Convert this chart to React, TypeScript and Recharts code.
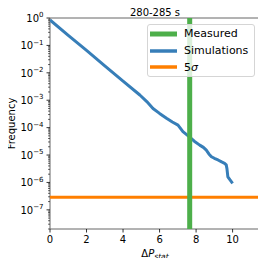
import {
  ComposedChart,
  Legend,
  Line,
  ReferenceArea,
  XAxis,
  YAxis,
} from "recharts";

// simulated false-alarm frequency vs. test statistic
const simX = [
  0, 1, 2, 3, 4, 4.92, 5.3, 5.64, 6.0, 6.38, 6.7, 7.01, 7.28, 7.65, 7.9, 8.2,
  8.4, 8.56, 8.7, 8.84, 9.0, 9.2, 9.4, 9.56, 9.65, 9.69, 9.74, 9.85, 10.0,
];
const simFreq = [
  0.85, 0.234, 0.066, 0.018, 0.005, 1.55e-3, 8.9e-4, 5.0e-4, 3.3e-4, 2.2e-4,
  1.6e-4, 1.23e-4, 7.1e-5, 4.5e-5, 3.2e-5, 2.3e-5, 1.9e-5, 1.5e-5, 1.1e-5,
  8.7e-6, 7.6e-6, 6.6e-6, 5.6e-6, 5.0e-6, 4.4e-6, 3.2e-6, 1.6e-6, 1.26e-6,
  9.3e-7,
];
const measuredValue = 7.65;
const fiveSigma = 2.87e-7;

const xDomain = [0, 11.5];
const yDomain = [2e-8, 1];
const xTicks = [0, 2, 4, 6, 8, 10];
const yMajorTicks = [1e-7, 1e-6, 1e-5, 1e-4, 1e-3, 1e-2, 1e-1, 1];
const yMinorSteps = [2, 3, 4, 5, 6, 7, 8, 9];

const BLUE = "#377eb8";
const GREEN = "#4daf4a";
const ORANGE = "#ff7f00";
const FONT = "DejaVu Sans";

const legendItems = [
  { name: "Measured", color: GREEN, width: 5 },
  { name: "Simulations", color: BLUE, width: 3.5 },
  { name: "5σ", color: ORANGE, width: 3.5 },
];

const simData = simX.map((x, i) => ({ x, y: simFreq[i] }));
const measuredData = [
  { x: measuredValue, y: yDomain[0] },
  { x: measuredValue, y: yDomain[1] },
];
const sigmaData = [
  { x: xDomain[0], y: fiveSigma },
  { x: xDomain[1], y: fiveSigma },
];

// major decades plus 2..9 minor ticks inside the domain
const yAllTicks = [
  ...yMajorTicks,
  ...[1e-8, ...yMajorTicks]
    .flatMap((d) => yMinorSteps.map((m) => m * d))
    .filter((v) => v >= yDomain[0] && v < yDomain[1]),
];

const isMajor = (v: number) =>
  yMajorTicks.some((t) => Math.abs(v / t - 1) < 1e-6);

const YTick = ({ x, y, payload }: any) => {
  const v = payload.value;
  if (!isMajor(v)) {
    return <line x1={x - 2} x2={x} y1={y} y2={y} stroke="#000" strokeWidth={0.6} />;
  }
  const exp = Math.round(Math.log10(v));
  return (
    <g>
      <line x1={x - 3.5} x2={x} y1={y} y2={y} stroke="#000" strokeWidth={0.8} />
      <text
        x={x - 6.5}
        y={y + 3.7}
        textAnchor="end"
        fontFamily={FONT}
        fontSize={10}
        fill="#000"
      >
        10
        <tspan dy={-4.5} fontSize={7}>
          {exp < 0 ? `\u2212${-exp}` : exp}
        </tspan>
      </text>
    </g>
  );
};

const XTick = ({ x, y, payload }: any) => (
  <g>
    <line x1={x} x2={x} y1={y} y2={y + 3.5} stroke="#000" strokeWidth={0.8} />
    <text
      x={x}
      y={y + 14}
      textAnchor="middle"
      fontFamily={FONT}
      fontSize={10}
      fill="#000"
    >
      {payload.value}
    </text>
  </g>
);

const LegendBox = () => (
  <div
    style={{
      boxSizing: "border-box",
      width: 108,
      height: 53,
      border: "1px solid #d5d5d5",
      borderRadius: 3,
      background: "rgba(255,255,255,0.8)",
      padding: "0.5px 0 0 2.5px",
      fontFamily: FONT,
      fontSize: 11,
      color: "#000",
    }}
  >
    {legendItems.map((item) => (
      <div
        key={item.name}
        style={{ display: "flex", alignItems: "center", height: 16.7 }}
      >
        <svg width={27} height={6} style={{ marginRight: 7 }}>
          <line x1={0} x2={27} y1={3} y2={3} stroke={item.color} strokeWidth={item.width} />
        </svg>
        <span style={{ whiteSpace: "nowrap" }}>
          {item.name.endsWith("σ") ? (
            <>
              {item.name.slice(0, -1)}
              <i>σ</i>
            </>
          ) : (
            item.name
          )}
        </span>
      </div>
    ))}
  </div>
);

export default function App() {
  return (
    <div style={{ margin: -8, width: 266, height: 266, background: "#fff" }}>
      <ComposedChart
        width={266}
        height={266}
        margin={{ top: 18, right: 6, bottom: 0, left: 0 }}
      >
        <XAxis
          type="number"
          dataKey="x"
          domain={xDomain}
          ticks={xTicks}
          allowDataOverflow
          height={37}
          axisLine={false}
          tickLine={false}
          tickSize={0}
          tickMargin={0}
          tick={<XTick />}
          interval={0}
          label={({ viewBox }: any) => (
            <text
              x={viewBox.x + viewBox.width / 2}
              y={viewBox.y + 27.5}
              textAnchor="middle"
              fontFamily={FONT}
              fontSize={10}
              fill="#000"
            >
              Δ<tspan fontStyle="italic">P</tspan>
              <tspan fontStyle="italic" fontSize={7.5} dy={2.5}>
                stat
              </tspan>
            </text>
          )}
        />
        <YAxis
          type="number"
          dataKey="y"
          scale="log"
          domain={yDomain}
          ticks={yAllTicks}
          allowDataOverflow
          width={50}
          axisLine={false}
          tickLine={false}
          tickSize={0}
          tickMargin={0}
          tick={<YTick />}
          interval={0}
          label={({ viewBox }: any) => {
            const cx = 14.5;
            const cy = viewBox.y + viewBox.height / 2;
            return (
              <text
                x={cx}
                y={cy}
                transform={`rotate(-90 ${cx} ${cy})`}
                textAnchor="middle"
                fontFamily={FONT}
                fontSize={10}
                fill="#000"
              >
                Frequency
              </text>
            );
          }}
        />
        <Line
          data={simData}
          dataKey="y"
          type="linear"
          stroke={BLUE}
          strokeWidth={3}
          dot={false}
          strokeLinejoin="round"
          isAnimationActive={false}
        />
        <Line
          data={sigmaData}
          dataKey="y"
          type="linear"
          stroke={ORANGE}
          strokeWidth={3}
          dot={false}
          isAnimationActive={false}
        />
        <Line
          data={measuredData}
          dataKey="y"
          type="linear"
          stroke={GREEN}
          strokeWidth={5}
          dot={false}
          isAnimationActive={false}
        />
        <ReferenceArea
          x1={xDomain[0]}
          x2={xDomain[1]}
          y1={yDomain[0]}
          y2={yDomain[1]}
          fill="none"
          stroke="#666"
          strokeWidth={1}
          ifOverflow="visible"
          label={({ viewBox }: any) => (
            <text
              x={viewBox.x + viewBox.width / 2}
              y={viewBox.y - 2.5}
              textAnchor="middle"
              fontFamily={FONT}
              fontSize={10}
              fill="#000"
            >
              280-285 s
            </text>
          )}
        />
        <Legend
          layout="vertical"
          align="center"
          verticalAlign="middle"
          content={<LegendBox />}
          wrapperStyle={{ left: 146.5, top: 24, width: 108, height: 53 }}
        />
      </ComposedChart>
    </div>
  );
}
